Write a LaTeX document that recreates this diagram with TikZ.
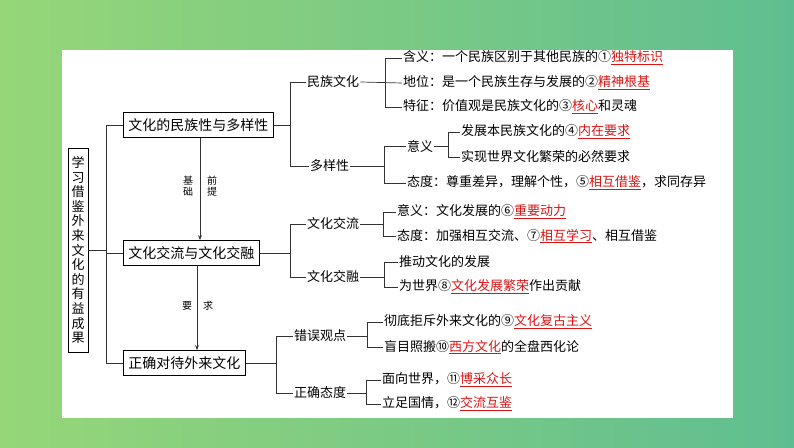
\documentclass[tikz,border=0pt]{standalone}
\usepackage{fontspec}
\setmainfont{Noto Sans CJK SC}
\usetikzlibrary{arrows.meta}
\definecolor{bgA}{RGB}{150,214,120}
\definecolor{bgB}{RGB}{95,190,145}
\definecolor{hlred}{RGB}{220,20,20}
\newcommand\hl[1]{\textcolor{hlred}{\underline{#1}}}
\begin{document}
\begin{tikzpicture}[x=1pt,y=-1pt,
  every node/.style={font=\fontsize{13}{15}\selectfont},
  box/.style={draw,line width=0.8pt,inner xsep=5pt,minimum height=25pt,anchor=west,font=\fontsize{14}{16}\selectfont},
  itm/.style={inner sep=1pt,anchor=west},
  ln/.style={line width=0.7pt,draw=black!80}]
\useasboundingbox (0,0) rectangle (794,447);
\shade[left color=bgA,right color=bgB] (0,0) rectangle (794,447);
\fill[white] (62,50) rectangle (733,418);
% left box
\node[draw,line width=0.8pt,inner sep=3pt,minimum height=204pt,text width=14pt,align=center,
  font=\fontsize{13}{14.6}\selectfont] (root) at (78,250)
  {学\\习\\借\\鉴\\外\\来\\文\\化\\的\\有\\益\\成\\果};
\node[box] (b1) at (123,125) {文化的民族性与多样性};
\node[box] (b2) at (123,253) {文化交流与文化交融};
\node[box] (b3) at (123,363) {正确对待外来文化};
\draw[ln] (root.east) -- (106,250);
\draw[ln] (b1.west) -- (106,125) -- (106,363) -- (b3.west);
\draw[ln] (106,253) -- (b2.west);
\draw[ln,-{Stealth[length=5pt]}] (b1.south -| 200,0) -- (b2.north -| 200,0);
\draw[ln,-{Stealth[length=5pt]}] (b2.south -| 197,0) -- (b3.north -| 197,0);
\node[font=\fontsize{10}{11}\selectfont,align=center] (j1) at (188,186) {基\\础};
\node[font=\fontsize{10}{11}\selectfont,align=center] (j2) at (212,186) {前\\提};
\node[font=\fontsize{10}{11}\selectfont] (y1) at (187,306) {要};
\node[font=\fontsize{10}{11}\selectfont] (y2) at (208,306) {求};
% branch 1
\node[itm] (m1) at (306,82) {民族文化};
\node[itm] (m2) at (309,166) {多样性};
\draw[ln] (b1.east) -- (290,125);
\draw[ln] (m1.west) -- (290,82) -- (290,166) -- (m2.west);
\node[itm] (a1) at (402,58) {含义：一个民族区别于其他民族的①\hl{独特标识}};
\node[itm] (a2) at (402,83) {地位：是一个民族生存与发展的②\hl{精神根基}};
\node[itm] (a3) at (402,107) {特征：价值观是民族文化的③\hl{核心}和灵魂};
\draw[ln] (m1.east) -- (a2.west);
\draw[ln] (a1.west) -- (385,58) -- (385,107) -- (a3.west);
\node[itm] (s1) at (406,146) {意义};
\node[itm] (s2) at (406,183) {态度：尊重差异，理解个性，⑤\hl{相互借鉴}，求同存异};
\draw[ln] (m2.east) -- (384,166);
\draw[ln] (s1.west) -- (384,146) -- (384,183) -- (s2.west);
\node[itm] (t1) at (460,132) {发展本民族文化的④\hl{内在要求}};
\node[itm] (t2) at (460,157) {实现世界文化繁荣的必然要求};
\draw[ln] (s1.east) -- (448,146);
\draw[ln] (t1.west) -- (448,132) -- (448,157) -- (t2.west);
% branch 2
\node[itm] (c1) at (306,224) {文化交流};
\node[itm] (c2) at (306,277) {文化交融};
\draw[ln] (b2.east) -- (290,253);
\draw[ln] (c1.west) -- (290,224) -- (290,277) -- (c2.west);
\node[itm] (d1) at (396,212) {意义：文化发展的⑥\hl{重要动力}};
\node[itm] (d2) at (396,236) {态度：加强相互交流、⑦\hl{相互学习}、相互借鉴};
\draw[ln] (c1.east) -- (383,224);
\draw[ln] (d1.west) -- (383,212) -- (383,236) -- (d2.west);
\node[itm] (e1) at (398,262) {推动文化的发展};
\node[itm] (e2) at (398,287) {为世界⑧\hl{文化发展繁荣}作出贡献};
\draw[ln] (c2.east) -- (384,277);
\draw[ln] (e1.west) -- (384,262) -- (384,287) -- (e2.west);
% branch 3
\node[itm] (f1) at (293,336) {错误观点};
\node[itm] (f2) at (293,393) {正确态度};
\draw[ln] (b3.east) -- (276,363);
\draw[ln] (f1.west) -- (276,336) -- (276,393) -- (f2.west);
\node[itm] (g1) at (383,322) {彻底拒斥外来文化的⑨\hl{文化复古主义}};
\node[itm] (g2) at (383,347) {盲目照搬⑩\hl{西方文化}的全盘西化论};
\draw[ln] (f1.east) -- (367,336);
\draw[ln] (g1.west) -- (367,322) -- (367,347) -- (g2.west);
\node[itm] (h1) at (381,380) {面向世界，⑪\hl{博采众长}};
\node[itm] (h2) at (381,404) {立足国情，⑫\hl{交流互鉴}};
\draw[ln] (f2.east) -- (366,393);
\draw[ln] (h1.west) -- (366,380) -- (366,404) -- (h2.west);
\end{tikzpicture}
\end{document}
